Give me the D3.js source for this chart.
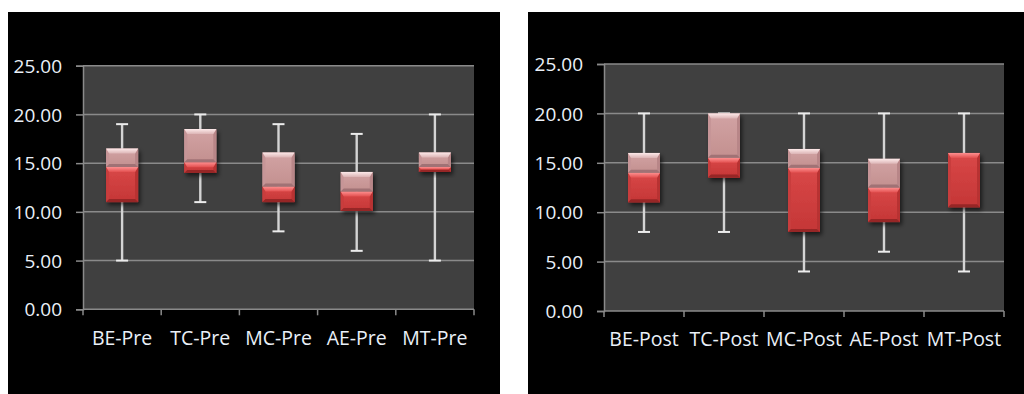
<!DOCTYPE html>
<html>
<head>
<meta charset="utf-8">
<script src="https://cdn.jsdelivr.net/npm/d3@7/dist/d3.min.js"></script>
<style>
  html, body { margin: 0; padding: 0; background: #ffffff; }
  svg { display: block; }
  text { font-family: "Open Sans", "DejaVu Sans", sans-serif; fill: #eaf0f8; }
</style>
</head>
<body>
<svg id="chart" width="1024" height="394"></svg>
<script>
// Score distributions: whisker min, first quartile, median, third quartile, whisker max
const preCategories = ["BE-Pre", "TC-Pre", "MC-Pre", "AE-Pre", "MT-Pre"];
const preMin    = [5, 11, 8, 6, 5];
const preQ1     = [11, 14, 11, 10.1, 14.1];
const preMedian = [14.6, 15.1, 12.6, 12.1, 14.6];
const preQ3     = [16.5, 18.5, 16.1, 14.1, 16.1];
const preMax    = [19, 20, 19, 18, 20];

const postCategories = ["BE-Post", "TC-Post", "MC-Post", "AE-Post", "MT-Post"];
const postMin    = [8, 8, 4, 6, 4];
const postQ1     = [11, 13.5, 8, 9, 10.5];
const postMedian = [14, 15.5, 14.5, 12.5, 16];
const postQ3     = [16, 20, 16.4, 15.4, 16];
const postMax    = [20, 20, 20, 20, 20];

const yTicks = [0, 5, 10, 15, 20, 25];

const svg = d3.select("#chart");

// shared defs: drop shadow and face gradients
const defs = svg.append("defs");
const shadow = defs.append("filter").attr("id", "boxShadow")
  .attr("x", "-30%").attr("y", "-30%").attr("width", "160%").attr("height", "160%");
shadow.append("feDropShadow").attr("dx", 2).attr("dy", 3).attr("stdDeviation", 2)
  .attr("flood-color", "#000").attr("flood-opacity", 0.6);

function vGrad(id, stops) {
  const g = defs.append("linearGradient").attr("id", id)
    .attr("x1", 0).attr("y1", 0).attr("x2", 0).attr("y2", 1);
  stops.forEach(s => g.append("stop").attr("offset", s[0]).attr("stop-color", s[1]));
}
vGrad("redBody", [[0, "#d94848"], [1, "#c43636"]]);
vGrad("pinkBody", [[0, "#d2a3a4"], [1, "#c3908f"]]);
vGrad("redTop", [[0, "#ff9090"], [1, "#e25050"]]);
vGrad("pinkTop", [[0, "#fdeaea"], [1, "#dcb4b5"]]);

const palettes = {
  red:  { body: "url(#redBody)",  top: "url(#redTop)",  side: "#c83c3c", right: "#b83232", bottom: "#962626" },
  pink: { body: "url(#pinkBody)", top: "url(#pinkTop)", side: "#c69597", right: "#b88688", bottom: "#a07274" }
};

// one bevelled slab between two y pixel positions
function slab(g, x0, x1, yTop, yBot, pal) {
  const h = yBot - yTop;
  if (h <= 0.2) return;
  const b = Math.min(5, h / 2, (x1 - x0) / 2);
  const bs = Math.min(3, h / 2);
  const s = g.append("g");
  s.append("rect").attr("x", x0).attr("y", yTop).attr("width", x1 - x0).attr("height", h)
    .attr("fill", pal.body);
  const poly = (pts, fill) => s.append("polygon")
    .attr("points", pts.map(p => p.join(",")).join(" ")).attr("fill", fill);
  poly([[x0, yTop], [x0 + bs, yTop + b], [x0 + bs, yBot - bs], [x0, yBot]], pal.side);
  poly([[x1, yTop], [x1 - bs, yTop + b], [x1 - bs, yBot - bs], [x1, yBot]], pal.right);
  poly([[x0, yBot], [x0 + bs, yBot - bs], [x1 - bs, yBot - bs], [x1, yBot]], pal.bottom);
  poly([[x0, yTop], [x1, yTop], [x1 - bs, yTop + b], [x0 + bs, yTop + b]], pal.top);
}

function drawPanel(cfg) {
  // black chart area
  svg.append("rect").attr("x", cfg.bx).attr("y", cfg.by).attr("width", cfg.bw).attr("height", cfg.bh)
    .attr("fill", "#000");

  const g = svg.append("g");
  const x = d3.scaleBand().domain(cfg.categories).range([cfg.x0, cfg.x1]).paddingInner(0).paddingOuter(0);
  const y = d3.scaleLinear().domain([0, 25]).range([cfg.yBottom, cfg.yTop]);

  // plot area
  g.append("rect").attr("x", cfg.x0).attr("y", y(25)).attr("width", cfg.x1 - cfg.x0)
    .attr("height", y(0) - y(25)).attr("fill", "#404040");

  // horizontal gridlines
  g.selectAll("line.grid").data(yTicks.filter(d => d > 0)).join("line")
    .attr("class", "grid")
    .attr("x1", cfg.x0).attr("x2", cfg.x1)
    .attr("y1", d => y(d)).attr("y2", d => y(d))
    .attr("stroke", "#8a8a8a").attr("stroke-width", 1.5);

  // value axis
  const yAxis = d3.axisLeft(y).tickValues(yTicks).tickSize(7).tickPadding(14)
    .tickFormat(d3.format(".2f"));
  const ya = g.append("g").attr("transform", `translate(${cfg.x0},0)`).call(yAxis);
  ya.select(".domain").attr("stroke", "#8a8a8a").attr("stroke-width", 1.5);
  ya.selectAll(".tick line").attr("stroke", "#8a8a8a").attr("stroke-width", 1.5);
  ya.selectAll(".tick text").attr("fill", "#eaf0f8").attr("font-size", 19)
    .attr("font-family", "'Open Sans', sans-serif").attr("dy", "0.35em");

  // category axis with ticks on band boundaries
  g.append("line").attr("x1", cfg.x0).attr("x2", cfg.x1).attr("y1", y(0)).attr("y2", y(0))
    .attr("stroke", "#8a8a8a").attr("stroke-width", 1.5);
  const bounds = cfg.categories.map(c => x(c)).concat([cfg.x1]);
  g.selectAll("line.xtick").data(bounds).join("line").attr("class", "xtick")
    .attr("x1", d => d).attr("x2", d => d).attr("y1", y(0)).attr("y2", y(0) + 6)
    .attr("stroke", "#8a8a8a").attr("stroke-width", 1.5);
  g.selectAll("text.xlab").data(cfg.categories).join("text").attr("class", "xlab")
    .attr("x", d => x(d) + x.bandwidth() / 2).attr("y", cfg.labelY)
    .attr("text-anchor", "middle").attr("font-size", 19.5).text(d => d);

  const bw = 32;
  cfg.categories.forEach((c, i) => {
    const cx = x(c) + x.bandwidth() / 2;
    // whisker
    const w = g.append("g");
    w.append("line").attr("x1", cx).attr("x2", cx).attr("y1", y(cfg.max[i])).attr("y2", y(cfg.min[i]))
      .attr("stroke", "#d4d4d4").attr("stroke-width", 2.4);
    [cfg.max[i], cfg.min[i]].forEach(v => {
      w.append("line").attr("x1", cx - 6).attr("x2", cx + 6).attr("y1", y(v)).attr("y2", y(v))
        .attr("stroke", "#ececec").attr("stroke-width", 2);
    });
    // box: lower half red, upper half pink
    const box = g.append("g").attr("filter", "url(#boxShadow)");
    slab(box, cx - bw / 2, cx + bw / 2, y(cfg.med[i]), y(cfg.q1[i]), palettes.red);
    slab(box, cx - bw / 2, cx + bw / 2, y(cfg.q3[i]), y(cfg.med[i]), palettes.pink);
  });
}

drawPanel({
  bx: 8, by: 12, bw: 492, bh: 382,
  x0: 83, x1: 474, yTop: 65.7, yBottom: 309.3, labelY: 345,
  categories: preCategories, min: preMin, q1: preQ1, med: preMedian, q3: preQ3, max: preMax
});
drawPanel({
  bx: 528, by: 12, bw: 496, bh: 382,
  x0: 604, x1: 1004, yTop: 64, yBottom: 311, labelY: 346,
  categories: postCategories, min: postMin, q1: postQ1, med: postMedian, q3: postQ3, max: postMax
});
</script>
</body>
</html>
